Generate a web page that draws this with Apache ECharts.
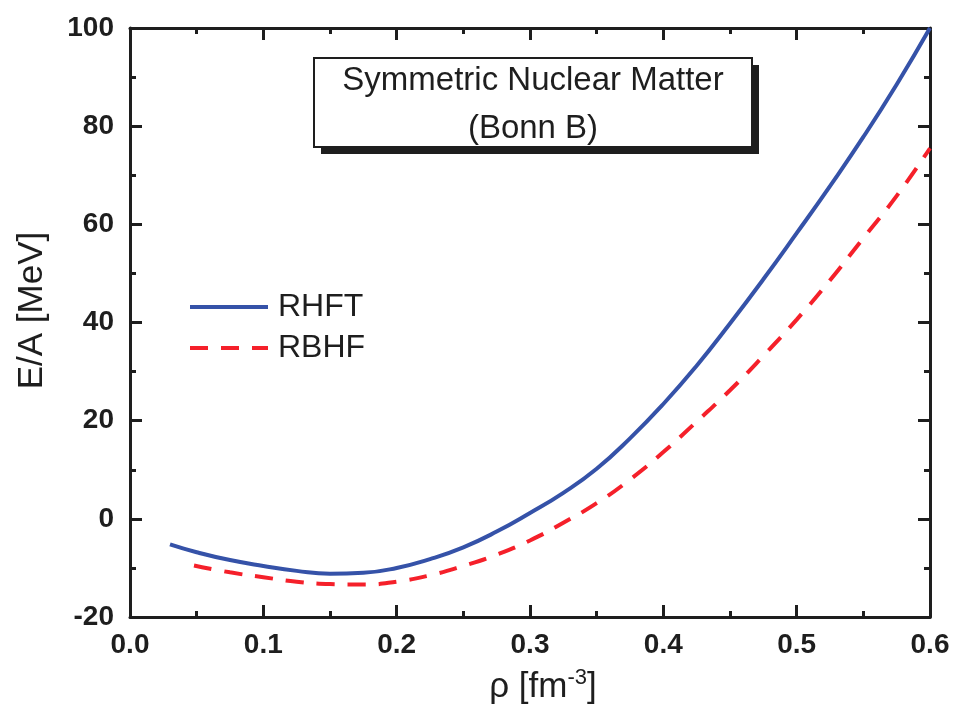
<!DOCTYPE html>
<html>
<head>
<meta charset="utf-8">
<script src="https://cdn.jsdelivr.net/npm/echarts@6/dist/echarts.min.js"></script>
<style>
  html, body { margin: 0; padding: 0; background: #fff; }
  #chart { width: 958px; height: 712px; }
</style>
</head>
<body>
<div id="chart"></div>
<script>
// density rho [fm^-3] and E/A [MeV]
const rhftRho = [0.03, 0.05, 0.075, 0.1, 0.125, 0.15, 0.175, 0.2, 0.225, 0.25, 0.275, 0.3,
  0.325, 0.35, 0.375, 0.4, 0.425, 0.45, 0.475, 0.5, 0.525, 0.55, 0.575, 0.6];
const rhftEA = [-5.2, -6.8, -8.4, -9.6, -10.6, -11.2, -11.0, -10.0, -8.2, -5.8, -2.6, 1.2,
  5.3, 10.2, 16.4, 23.4, 31.2, 39.8, 48.8, 58.2, 67.8, 77.8, 88.5, 100];

const rbhfRho = [0.048, 0.075, 0.1, 0.125, 0.15, 0.175, 0.2, 0.225, 0.25, 0.275, 0.3,
  0.325, 0.35, 0.375, 0.4, 0.425, 0.45, 0.475, 0.5, 0.525, 0.55, 0.575, 0.6];
const rbhfEA = [-9.5, -10.9, -11.9, -12.8, -13.3, -13.4, -12.8, -11.5, -9.6, -7.3, -4.4,
  -0.8, 3.2, 8.0, 13.6, 19.8, 26.2, 33.2, 40.6, 48.6, 57.2, 65.8, 75.5];

const seriesNames = ['RHFT', 'RBHF'];
const boxLines = ['Symmetric Nuclear Matter', '(Bonn B)'];

const zip = (xs, ys) => xs.map((x, i) => [x, ys[i]]);

const font = 'Liberation Sans, Arial, sans-serif';
const ink = '#1e1e1e';

const chart = echarts.init(document.getElementById('chart'));

const baseX = {
  type: 'value', min: 0, max: 0.6, interval: 0.1,
  axisLine: { show: true, onZero: false, lineStyle: { color: ink, width: 3 } },
  axisTick: { show: true, inside: true, length: 12, lineStyle: { color: ink, width: 3 } },
  minorTick: { show: true, splitNumber: 2, length: 6, lineStyle: { color: ink, width: 3 } },
  splitLine: { show: false }
};
const baseY = {
  type: 'value', min: -20, max: 100, interval: 20,
  axisLine: { show: true, onZero: false, lineStyle: { color: ink, width: 3 } },
  axisTick: { show: true, inside: true, length: 12, lineStyle: { color: ink, width: 3 } },
  minorTick: { show: true, splitNumber: 2, length: 6, lineStyle: { color: ink, width: 3 } },
  splitLine: { show: false }
};

let option = {
  backgroundColor: '#fff',
  animation: false,
  grid: { left: 130, right: 28, top: 28, bottom: 95, containLabel: false },
  legend: {
    orient: 'vertical',
    left: 188, top: 289, padding: 0,
    itemWidth: 78, itemHeight: 14, itemGap: 5,
    data: seriesNames,
    itemStyle: { opacity: 0 },
    lineStyle: { width: 4 },
    textStyle: { fontFamily: font, fontSize: 32, color: ink, lineHeight: 36, padding: [0, 0, 0, 5] }
  },
  xAxis: [
    Object.assign({}, baseX, {
      position: 'bottom',
      name: '{a|ρ [fm}{s|-3}{a|]}',
      nameLocation: 'middle',
      nameGap: 50,
      nameTextStyle: {
        padding: [0, 0, 0, 26],
        rich: {
          a: { fontFamily: font, fontSize: 35, color: ink },
          s: { fontFamily: font, fontSize: 22, color: ink, padding: [0, 0, 18, 0] }
        }
      },
      axisLabel: {
        margin: 14, fontFamily: font, fontSize: 28, fontWeight: 'bold', color: ink,
        formatter: v => v.toFixed(1)
      }
    }),
    Object.assign({}, baseX, { position: 'top', axisLabel: { show: false } })
  ],
  yAxis: [
    Object.assign({}, baseY, {
      position: 'left',
      name: 'E/A [MeV]',
      nameLocation: 'middle',
      nameGap: 80,
      nameTextStyle: { fontFamily: font, fontSize: 35, color: ink, padding: [0, 0, 0, 24] },
      axisLabel: { margin: 16, fontFamily: font, fontSize: 28, fontWeight: 'bold', color: ink }
    }),
    Object.assign({}, baseY, { position: 'right', axisLabel: { show: false } })
  ],
  graphic: [
    { type: 'rect', shape: { x: 321, y: 65, width: 438, height: 89 }, style: { fill: '#1e1e1e' }, z: 10 },
    { type: 'rect', shape: { x: 314, y: 58, width: 438, height: 89 },
      style: { fill: '#fff', stroke: '#1e1e1e', lineWidth: 2 }, z: 11 },
    { type: 'text', x: 533, y: 81, z: 12,
      style: { text: boxLines[0], fontFamily: font, fontSize: 33, fill: ink, align: 'center', verticalAlign: 'middle' } },
    { type: 'text', x: 533, y: 129, z: 12,
      style: { text: boxLines[1], fontFamily: font, fontSize: 33, fill: ink, align: 'center', verticalAlign: 'middle' } }
  ],
  series: [
    {
      name: seriesNames[0], type: 'line', smooth: true, symbol: 'none',
      lineStyle: { color: '#3552a8', width: 4 },
      itemStyle: { color: '#3552a8' },
      data: zip(rhftRho, rhftEA)
    },
    {
      name: seriesNames[1], type: 'line', smooth: true, symbol: 'none',
      lineStyle: { color: '#f5202a', width: 4, type: [18, 13] },
      itemStyle: { color: '#f5202a' },
      data: zip(rbhfRho, rbhfEA)
    }
  ]
};

option && chart.setOption(option);
</script>
</body>
</html>
